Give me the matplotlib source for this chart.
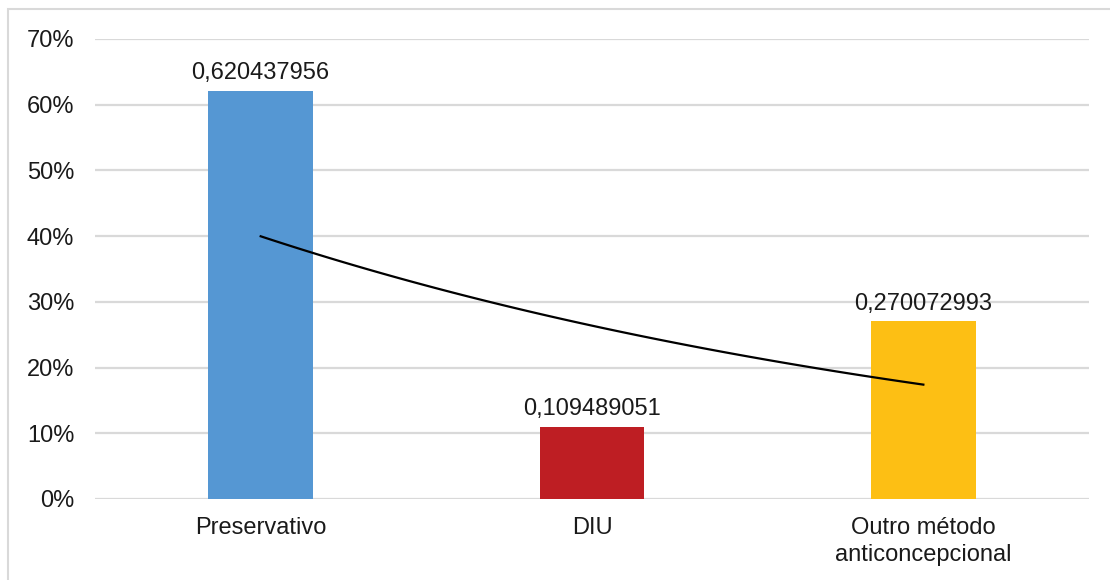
import numpy as np
import matplotlib.pyplot as plt
from matplotlib.ticker import PercentFormatter
from matplotlib.patches import Rectangle

plt.rcParams['font.family'] = ['Liberation Sans', 'DejaVu Sans']

categorias = ["Preservativo", "DIU", "Outro método\nanticoncepcional"]
valores = [0.620437956, 0.109489051, 0.270072993]
rotulos = ["0,620437956", "0,109489051", "0,270072993"]
cores = ["#5597D3", "#BE1E23", "#FDBF14"]

fig = plt.figure(figsize=(11.1, 5.8), dpi=100)
ax = fig.add_axes([0.0856, 0.1397, 0.8955, 0.7931])

x = np.arange(len(categorias))
barras = ax.bar(x, valores, width=0.315, color=cores, zorder=2)

for b, txt in zip(barras, rotulos):
    ax.annotate(txt, (b.get_x() + b.get_width() / 2, b.get_height()),
                xytext=(0, 5), textcoords="offset points",
                ha="center", va="bottom", fontsize=17, color="#1a1a1a")

# linha de tendência exponencial (y = a*e^(b*x), x = 1..n)
xn = x + 1
b_exp, ln_a = np.polyfit(xn, np.log(valores), 1)
xs = np.linspace(1, len(valores), 100)
ax.plot(xs - 1, np.exp(ln_a) * np.exp(b_exp * xs), color="black", lw=1.6, zorder=3)

ax.set_xlim(-0.5, len(categorias) - 0.5)
ax.set_ylim(0, 0.7)
ax.set_yticks(np.arange(0, 0.71, 0.1))
ax.yaxis.set_major_formatter(PercentFormatter(1.0, decimals=0))
ax.set_xticks(x)
ax.set_xticklabels(categorias, fontsize=17, color="#1a1a1a", linespacing=1.3)
ax.tick_params(axis="y", length=0, pad=15, labelsize=17, labelcolor="#1a1a1a")
ax.tick_params(axis="x", length=0, pad=13)
ax.grid(axis="y", color="#d9d9d9", lw=1.6, zorder=0)
for s in ax.spines.values():
    s.set_visible(False)

# moldura do gráfico
fig.patches.append(Rectangle((8 / 1110, -0.1), 1.2, (580 - 9) / 580 + 0.1,
                             transform=fig.transFigure, fill=False,
                             edgecolor="#d9d9d9", lw=1.5))

fig.savefig("out.png", dpi=100)
